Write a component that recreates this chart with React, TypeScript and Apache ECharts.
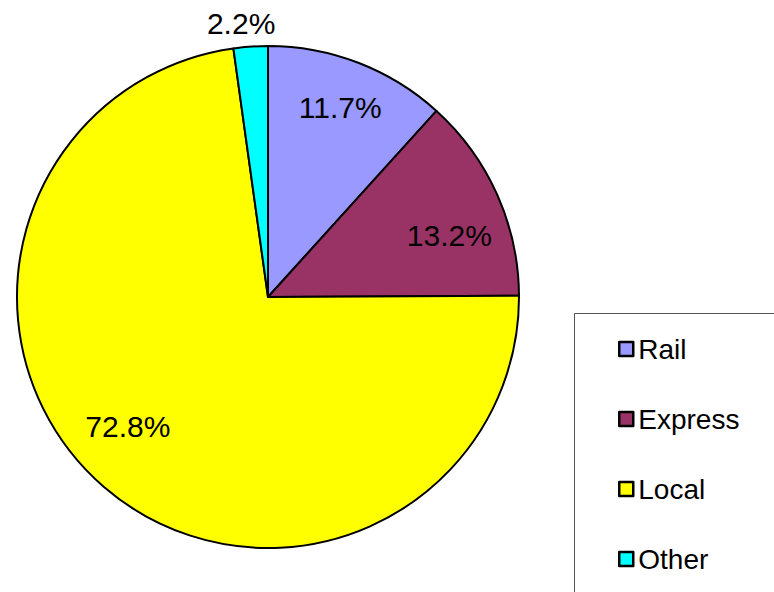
import React, { useEffect, useRef } from "react";
import * as echarts from "echarts";

const categories = ["Rail", "Express", "Local", "Other"];
const shares = [11.7, 13.2, 72.8, 2.2];
const sliceColors = ["#9999FF", "#993366", "#FFFF00", "#00FFFF"];

// label nudges (px) relative to ECharts' default inside-label position
const labelNudges: [number, number][] = [
  [26, -70],
  [64, -9],
  [-56, 32],
  [-18, -145],
];

export default function App() {
  const ref = useRef<HTMLDivElement>(null);
  useEffect(() => {
    document.body.style.margin = "0";
    const chart = echarts.init(ref.current!, null, { renderer: "svg" });
    const font = "Liberation Sans, Arial, sans-serif";
    chart.setOption({
      animation: false,
      backgroundColor: "#ffffff",
      graphic: [
        {
          type: "rect",
          shape: { x: 574.5, y: 313.5, width: 300, height: 400 },
          style: { fill: "none", stroke: "#555555", lineWidth: 1 },
          z: 0,
        },
      ],
      legend: {
        orient: "vertical",
        left: 613,
        top: 330,
        data: categories,
        icon: "rect",
        itemWidth: 14,
        itemHeight: 14,
        itemGap: 42,
        itemStyle: { borderColor: "#000", borderWidth: 2.5 },
        textStyle: { fontFamily: font, fontSize: 28, color: "#000", lineHeight: 28, padding: [0, 0, 0, 0] },
      },
      series: [
        {
          type: "pie",
          center: [268, 297],
          radius: [0, 251],
          startAngle: 90,
          clockwise: true,
          avoidLabelOverlap: false,
          itemStyle: { borderColor: "#000", borderWidth: 2 },
          label: {
            show: true,
            position: "inside",
            fontFamily: font,
            fontSize: 30,
            color: "#000",
            formatter: (p: any) => Number(p.value).toFixed(1) + "%",
          },
          labelLine: { show: false },
          labelLayout: (p: any) => ({ dx: labelNudges[p.dataIndex][0], dy: labelNudges[p.dataIndex][1] }),
          emphasis: { disabled: true },
          data: categories.map((name, i) => ({
            name,
            value: shares[i],
            itemStyle: { color: sliceColors[i] },
          })),
        },
      ],
    });
    return () => chart.dispose();
  }, []);
  return (
    <div
      ref={ref}
      style={{ position: "fixed", left: 0, top: 0, width: 774, height: 592 }}
    />
  );
}
